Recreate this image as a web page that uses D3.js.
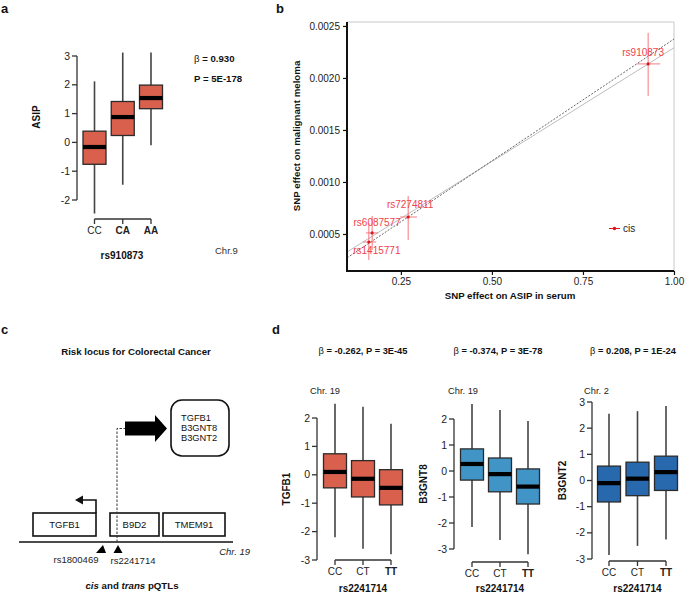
<!DOCTYPE html>
<html><head><meta charset="utf-8">
<script src="https://cdn.jsdelivr.net/npm/d3@7"></script>
<style>body{margin:0;background:#fff}svg{display:block;font-family:"Liberation Sans",Arial,Helvetica,sans-serif}</style>
</head><body><svg id="c" width="685" height="594"></svg>
<script>
// ---------- DATA ----------
const asipGenotypes = ["CC","CA","AA"];
const asipBoxes = [
  {lo:-2.47, q1:-0.76, med:-0.16, q3:0.39, hi:2.12},
  {lo:-1.47, q1: 0.24, med: 0.88, q3:1.42, hi:3.12},
  {lo:-0.10, q1: 1.17, med: 1.54, q3:1.99, hi:3.12}
];
const asipTicks = [-2,-1,0,1,2,3];

const mrSnps = ["rs910873","rs7274811","rs6087577","rs1415771"];
const mrX   = [0.929, 0.270, 0.171, 0.162];
const mrXlo = [0.899, 0.248, 0.154, 0.146];
const mrXhi = [0.962, 0.294, 0.187, 0.182];
const mrY   = [0.002135, 0.000663, 0.000510, 0.000423];
const mrYlo = [0.001827, 0.000442, 0.000346, 0.000250];
const mrYhi = [0.002433, 0.000865, 0.000673, 0.000606];
const mrXTicks = [0.25, 0.50, 0.75, 1.00];
const mrYTicks = [0.0005, 0.0010, 0.0015, 0.0020, 0.0025];
const fitDashed = {intercept:0.000031, slope:0.002344};
const fitSolid  = {intercept:0.000104, slope:0.002186};

const locusGenes = ["TGFB1","B9D2","TMEM91"];
const transTargets = ["TGFB1","B3GNT8","B3GNT2"];
const locusSnps = ["rs1800469","rs2241714"];

const pqtlGenotypes = ["CC","CT","TT"];
const tgfb1Boxes = [
  {lo:-2.20, q1:-0.46, med: 0.10, q3:0.74, hi:2.50},
  {lo:-2.60, q1:-0.78, med:-0.14, q3:0.50, hi:2.40},
  {lo:-2.80, q1:-1.06, med:-0.46, q3:0.18, hi:1.80}
];
const b3gnt8Boxes = [
  {lo:-2.15, q1:-0.35, med: 0.27, q3:0.85, hi:2.58},
  {lo:-2.65, q1:-0.80, med:-0.12, q3:0.50, hi:2.35},
  {lo:-3.20, q1:-1.27, med:-0.60, q3:0.08, hi:1.92}
];
const b3gnt2Boxes = [
  {lo:-2.85, q1:-0.82, med:-0.10, q3:0.55, hi:2.55},
  {lo:-2.50, q1:-0.58, med: 0.07, q3:0.70, hi:2.65},
  {lo:-2.25, q1:-0.38, med: 0.32, q3:0.93, hi:2.85}
];
const pqtlTitles = ["β = -0.262, P = 3E-45","β = -0.374, P = 3E-78","β = 0.208, P = 1E-24"];
const pqtlProteins = ["TGFB1","B3GNT8","B3GNT2"];
const pqtlChr = ["Chr. 19","Chr. 19","Chr. 2"];
const pqtlTicksA = [-3,-2,-1,0,1,2];
const pqtlTicksB = [-3,-2,-1,0,1,2,3];

// ---------- DRAW ----------
const svg = d3.select("#c");
const FS = 10;
function txt(x,y,s,o={}){
  const t = svg.append("text").attr("x",x).attr("y",y).text(s)
    .attr("font-size",o.size||FS).attr("fill",o.fill||"#111")
    .attr("text-anchor",o.anchor||"start");
  if(o.bold) t.attr("font-weight","bold");
  if(o.italic) t.attr("font-style","italic");
  if(o.rotate!==undefined) t.attr("transform",`rotate(${o.rotate},${x},${y})`);
  return t;
}
// panel letters
txt(1,13,"a",{size:13,bold:true});
txt(276,13,"b",{size:13,bold:true});
txt(1,334,"c",{size:13,bold:true});
txt(272,334,"d",{size:13,bold:true});

function boxplot(opt){
  const {boxes,geno,xr,yDomain,yRange,axisX,ticks,color,boldLabels,bracketY} = opt;
  const x = d3.scalePoint().domain(geno).range(xr);
  const y = d3.scaleLinear().domain(yDomain).range(yRange);
  const bw = 23;
  const g = svg.append("g");
  // y axis (base R style)
  const yMin = d3.min(ticks), yMax = d3.max(ticks);
  g.append("line").attr("x1",axisX).attr("x2",axisX).attr("y1",y(yMin)).attr("y2",y(yMax))
    .attr("stroke","#333").attr("stroke-width",1.3);
  ticks.forEach(t=>{
    g.append("line").attr("x1",axisX-5).attr("x2",axisX).attr("y1",y(t)).attr("y2",y(t))
      .attr("stroke","#333").attr("stroke-width",1.3);
    g.append("text").attr("x",axisX-7).attr("y",y(t)+3.6).attr("text-anchor","end")
      .attr("font-size",10.5).attr("fill","#222").text(t);
  });
  // bracket x axis
  g.append("line").attr("x1",x(geno[0])).attr("x2",x(geno[geno.length-1]))
    .attr("y1",bracketY).attr("y2",bracketY).attr("stroke","#333").attr("stroke-width",1.3);
  geno.forEach((k,i)=>{
    g.append("line").attr("x1",x(k)).attr("x2",x(k)).attr("y1",bracketY).attr("y2",bracketY+5)
      .attr("stroke","#333").attr("stroke-width",1.3);
    g.append("text").attr("x",x(k)).attr("y",bracketY+15).attr("text-anchor","middle")
      .attr("font-size",10).attr("fill","#222")
      .attr("font-weight",boldLabels[i]?"bold":"normal").text(k);
  });
  boxes.forEach((b,i)=>{
    const cx = x(geno[i]);
    g.append("line").attr("x1",cx).attr("x2",cx).attr("y1",y(b.lo)).attr("y2",y(b.hi))
      .attr("stroke","#444").attr("stroke-width",1.6);
    g.append("rect").attr("x",cx-bw/2).attr("width",bw).attr("y",y(b.q3)).attr("height",y(b.q1)-y(b.q3))
      .attr("fill",color).attr("stroke","#2b2b2b").attr("stroke-width",1.3);
    g.append("line").attr("x1",cx-bw/2).attr("x2",cx+bw/2).attr("y1",y(b.med)).attr("y2",y(b.med))
      .attr("stroke","#000").attr("stroke-width",4.2);
  });
  return {x,y};
}

// ---- Panel a ----
boxplot({boxes:asipBoxes, geno:asipGenotypes, xr:[94.5,151], yDomain:[-2,3], yRange:[200,56],
  axisX:77, ticks:asipTicks, color:"#d9604d", boldLabels:[false,true,true], bracketY:219});
txt(40,117,"ASIP",{bold:true,anchor:"middle",rotate:-90,size:10});
txt(122,259,"rs910873",{bold:true,anchor:"middle",size:10});
txt(215,254,"Chr.9",{size:9.5,fill:"#333"});
const ba = txt(194,62,"",{size:9.6});
ba.append("tspan").text("β");
ba.append("tspan").attr("font-weight","bold").text(" = 0.930");
txt(194,82,"P = 5E-178",{bold:true,size:9.6});

// ---- Panel b ----
{
  const x = d3.scaleLinear().domain([0.102,1.0]).range([347,674]);
  const y = d3.scaleLinear().domain([0.000144,0.002538]).range([271,22]);
  const g = svg.append("g");
  // frame
  g.append("line").attr("x1",347).attr("x2",674).attr("y1",22).attr("y2",22).attr("stroke","#c8c8c8");
  g.append("line").attr("x1",674).attr("x2",674).attr("y1",22).attr("y2",271).attr("stroke","#c8c8c8");
  // fit lines
  const xs = x.domain();
  const clip = g.append("clipPath").attr("id","bclip").append("rect").attr("x",347).attr("y",22).attr("width",327).attr("height",249);
  const lg = g.append("g").attr("clip-path","url(#bclip)");
  lg.append("line").attr("x1",x(xs[0])).attr("x2",x(xs[1]))
    .attr("y1",y(fitSolid.intercept+fitSolid.slope*xs[0])).attr("y2",y(fitSolid.intercept+fitSolid.slope*xs[1]))
    .attr("stroke","#b5b5b5").attr("stroke-width",0.9);
  lg.append("line").attr("x1",x(xs[0])).attr("x2",x(xs[1]))
    .attr("y1",y(fitDashed.intercept+fitDashed.slope*xs[0])).attr("y2",y(fitDashed.intercept+fitDashed.slope*xs[1]))
    .attr("stroke","#555").attr("stroke-width",0.9).attr("stroke-dasharray","2,1.5");
  // axes
  const ax = g.append("g").attr("transform","translate(0,271)")
    .call(d3.axisBottom(x).tickValues(mrXTicks).tickFormat(d3.format(".2f")).tickSize(4).tickSizeOuter(0));
  const ay = g.append("g").attr("transform","translate(347,0)")
    .call(d3.axisLeft(y).tickValues(mrYTicks).tickFormat(d3.format(".4f")).tickSize(4).tickSizeOuter(0));
  [ax,ay].forEach(a=>{
    a.select(".domain").attr("stroke","#111").attr("stroke-width",2);
    a.selectAll(".tick line").attr("stroke","#111").attr("stroke-width",1.2);
    a.selectAll(".tick text").attr("font-size",10).attr("fill","#222")
      .attr("font-family","Liberation Sans, Arial, sans-serif");
  });
  ax.select(".domain").attr("d","M347,0H674");
  ay.select(".domain").attr("d","M0,22V272");
  // points
  const red = "#f0424a";
  const nudge = [[-5,-8],[2,-9],[5,-7],[8,12]];
  mrSnps.forEach((s,i)=>{
    g.append("line").attr("x1",x(mrX[i])).attr("x2",x(mrX[i])).attr("y1",y(mrYlo[i])).attr("y2",y(mrYhi[i]))
      .attr("stroke","#f26a70").attr("stroke-width",0.9);
    g.append("line").attr("x1",x(mrXlo[i])).attr("x2",x(mrXhi[i])).attr("y1",y(mrY[i])).attr("y2",y(mrY[i]))
      .attr("stroke","#f26a70").attr("stroke-width",0.9);
    g.append("circle").attr("cx",x(mrX[i])).attr("cy",y(mrY[i])).attr("r",1.6).attr("fill","#e0161f");
    g.append("text").attr("x",x(mrX[i])+nudge[i][0]).attr("y",y(mrY[i])+nudge[i][1]).attr("text-anchor","middle")
      .attr("font-size",10).attr("fill",red).text(s);
  });
  // legend
  g.append("line").attr("x1",609).attr("x2",620).attr("y1",228.5).attr("y2",228.5).attr("stroke","#e0161f").attr("stroke-width",1);
  g.append("circle").attr("cx",614.5).attr("cy",228.5).attr("r",1.8).attr("fill","#e0161f");
  txt(623,232,"cis",{size:10,fill:"#222"});
  txt(300,136,"SNP effect on malignant meloma",{bold:true,anchor:"middle",rotate:-90,size:9.7});
  txt(510,299,"SNP effect on ASIP in serum",{bold:true,anchor:"middle",size:9.7});
}

// ---- Panel c ----
{
  const g = svg.append("g");
  txt(136,355,"Risk locus for Colorectal Cancer",{bold:true,anchor:"middle",size:9.7});
  // chromosome
  g.append("line").attr("x1",19).attr("x2",233).attr("y1",542).attr("y2",542).attr("stroke","#111").attr("stroke-width",1.3);
  txt(250,555,"Chr. 19",{italic:true,anchor:"end",size:9.5,fill:"#222"});
  const geneBoxes = [[33,96],[110,159],[163,225]];
  locusGenes.forEach((n,i)=>{
    const [x0,x1]=geneBoxes[i];
    g.append("rect").attr("x",x0).attr("y",513).attr("width",x1-x0).attr("height",23)
      .attr("fill","#fff").attr("stroke","#111").attr("stroke-width",1.6);
    txt((x0+x1)/2,528,n,{anchor:"middle",size:9.5});
  });
  // TGFB1 promoter arrow
  g.append("path").attr("d","M96,513V500H82").attr("fill","none").attr("stroke","#111").attr("stroke-width",1.6);
  g.append("path").attr("d","M75,500L83,495.5L83,504.5Z").attr("fill","#111");
  // dashed trans link
  g.append("path").attr("d","M117,542V428.5H125").attr("fill","none").attr("stroke","#333").attr("stroke-width",1).attr("stroke-dasharray","2.5,1.5");
  g.append("path").attr("d","M125,421.5H155V415L167,428.5L155,442V435.5H125Z").attr("fill","#000");
  // target box
  g.append("rect").attr("x",171).attr("y",400).attr("width",58).attr("height",56).attr("rx",11)
    .attr("fill","#fff").attr("stroke","#111").attr("stroke-width",1.6);
  transTargets.forEach((n,i)=>txt(181,421+i*10,n,{size:9.3}));
  // snp triangles
  g.append("path").attr("d","M103,545L106,553L96,553Z").attr("fill","#000");
  g.append("path").attr("d","M118,545L122.5,553L113.5,553Z").attr("fill","#000");
  txt(76,563,locusSnps[0],{anchor:"middle",size:9.5,fill:"#222"});
  txt(133,564,locusSnps[1],{anchor:"middle",size:9.5,fill:"#222"});
  const t = txt(132,589,"",{anchor:"middle",size:9.7,bold:true});
  t.append("tspan").attr("font-style","italic").text("cis");
  t.append("tspan").text(" and ");
  t.append("tspan").attr("font-style","italic").text("trans");
  t.append("tspan").text(" pQTLs");
}

// ---- Panel d ----
const dSpecs = [
  {boxes:tgfb1Boxes, xr:[335,391], yDomain:[-3,2], yRange:[560,418], axisX:317, ticks:pqtlTicksA, color:"#d9604d",
   bracketY:560, ylabX:290, titleX:363, chrX:310},
  {boxes:b3gnt8Boxes, xr:[472,528], yDomain:[-3,2], yRange:[549,419], axisX:454, ticks:pqtlTicksA, color:"#4195c6",
   bracketY:562, ylabX:427, titleX:498, chrX:448},
  {boxes:b3gnt2Boxes, xr:[609,666], yDomain:[-3,3], yRange:[559,402], axisX:592, ticks:pqtlTicksB, color:"#2868ad",
   bracketY:561, ylabX:566, titleX:633, chrX:584}
];
dSpecs.forEach((s,i)=>{
  boxplot({boxes:s.boxes, geno:pqtlGenotypes, xr:s.xr, yDomain:s.yDomain, yRange:s.yRange, axisX:s.axisX,
    ticks:s.ticks, color:s.color, boldLabels:[false,false,true], bracketY:s.bracketY});
  const tt = txt(s.titleX,354,"",{anchor:"middle",size:9.3});
  tt.append("tspan").text("β");
  tt.append("tspan").attr("font-weight","bold").text(pqtlTitles[i].slice(1));
  txt(s.chrX,394,pqtlChr[i],{size:9.3,fill:"#222"});
  txt(s.ylabX,(s.yRange[0]+s.yRange[1])/2,pqtlProteins[i],{bold:true,anchor:"middle",rotate:-90,size:10});
  txt((s.xr[0]+s.xr[1])/2,592,"rs2241714",{bold:true,anchor:"middle",size:10});
});
</script></body></html>
